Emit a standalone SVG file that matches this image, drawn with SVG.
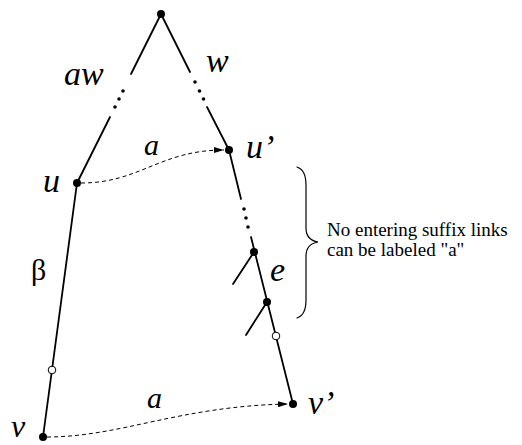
<svg xmlns="http://www.w3.org/2000/svg" width="522" height="445" viewBox="0 0 522 445">
<style>
.e{stroke:#000;stroke-width:1.8;fill:none;stroke-linecap:round}
.d{stroke:#000;stroke-width:1;fill:none;stroke-dasharray:4 3}
.n{fill:#000}
.o{fill:#fff;stroke:#000;stroke-width:1}
.lab{font-family:"Liberation Serif",serif;font-style:italic;fill:#000}
.txt{font-family:"Liberation Serif",serif;font-size:19px;fill:#000}
</style>
<defs>
<marker id="ah" viewBox="0 0 10 6" refX="10" refY="3" markerWidth="10" markerHeight="6" markerUnits="userSpaceOnUse" orient="auto">
<path d="M0,0 L10,3 L0,6 Z" fill="#000"/>
</marker>
</defs>
<g id="connectors">
<line class="e" x1="161" y1="14" x2="131" y2="74"/>
<circle class="n" cx="123" cy="91" r="1.8"/>
<circle class="n" cx="119" cy="99" r="1.8"/>
<circle class="n" cx="115" cy="107" r="1.8"/>
<line class="e" x1="110" y1="117" x2="77" y2="183"/>
<line class="e" x1="161" y1="14" x2="190" y2="72"/>
<circle class="n" cx="195" cy="82" r="1.8"/>
<circle class="n" cx="199.5" cy="91" r="1.8"/>
<circle class="n" cx="203.5" cy="99" r="1.8"/>
<line class="e" x1="207" y1="107" x2="229" y2="150"/>
<line class="e" x1="229" y1="150" x2="241" y2="199"/>
<circle class="n" cx="244" cy="209" r="1.8"/>
<circle class="n" cx="246" cy="218" r="1.8"/>
<circle class="n" cx="248" cy="227" r="1.8"/>
<line class="e" x1="251" y1="237" x2="293" y2="404"/>
<line class="e" x1="254" y1="252" x2="233" y2="284"/>
<line class="e" x1="267" y1="302" x2="246" y2="335"/>
<line class="e" x1="77" y1="183" x2="43" y2="437"/>
<path class="d" d="M81,183 C140,183 160,150 224,150" marker-end="url(#ah)"/>
<path class="d" d="M47,437 C120,437 180,406 288,404" marker-end="url(#ah)"/>
</g>
<g id="root"><circle class="n" cx="161" cy="14" r="4"/></g>
<g id="u"><circle class="n" cx="77" cy="183" r="4"/><text class="lab" x="43" y="192" font-size="34">u</text></g>
<g id="u-prime"><circle class="n" cx="229" cy="150" r="4"/><text class="lab" x="246" y="158" font-size="34">u’</text></g>
<g id="n1"><circle class="n" cx="254" cy="252" r="4"/></g>
<g id="n2"><circle class="n" cx="267" cy="302" r="4"/></g>
<g id="c1"><circle class="o" cx="52" cy="370" r="3.8"/></g>
<g id="c2"><circle class="o" cx="276" cy="336" r="3.8"/></g>
<g id="v"><circle class="n" cx="43" cy="437" r="4"/><text class="lab" x="11" y="437" font-size="32">v</text></g>
<g id="v-prime"><circle class="n" cx="293" cy="404" r="4"/><text class="lab" x="308" y="414" font-size="34">v’</text></g>
<g id="labels">
<text class="lab" x="64" y="85" font-size="34">aw</text>
<text class="lab" x="206" y="72" font-size="34">w</text>
<text class="lab" x="144" y="155" font-size="30">a</text>
<text class="lab" x="147" y="408" font-size="30">a</text>
<text class="lab" x="270" y="281" font-size="34">e</text>
<text x="31" y="280" font-family="Liberation Serif, serif" font-size="30">β</text>
</g>
<g id="brace">
<path class="e" style="stroke-width:1.2" d="M297,167 Q306,170 306,185 L306,228 Q306,240 318,242 Q306,244 306,256 L306,300 Q306,315 297,318"/>
<text class="txt" x="327" y="236">No entering suffix links</text>
<text class="txt" x="327" y="256">can be labeled "a"</text>
</g>
</svg>
